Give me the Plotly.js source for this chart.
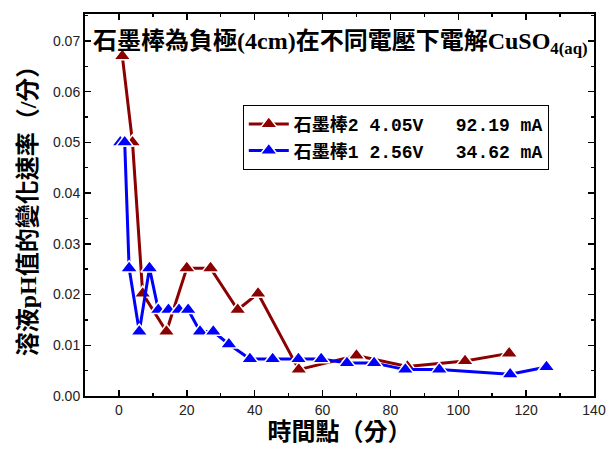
<!DOCTYPE html>
<html>
<head>
<meta charset="utf-8">
<script src="https://cdn.plot.ly/plotly-3.0.1.min.js"></script>
<style>html,body{margin:0;padding:0;background:#fff;}#chart{width:610px;height:455px;}</style>
</head>
<body>
<div id="chart"></div>
<script>
// Data
const redX = [1, 4, 7, 14, 20, 27, 35, 41, 53, 70, 85, 102, 115];
const redY = [0.0670, 0.0500, 0.0202, 0.0127, 0.0252, 0.0252, 0.0170, 0.0202, 0.0052, 0.0080, 0.0058, 0.0069, 0.0084];
const blueX = [0.4, 1.7, 3, 6, 9, 11.6, 14.6, 17.7, 20.4, 23.9, 27.8, 32.4, 38.6, 45.3, 52.9, 59.6, 67.2, 75.2, 84.4, 94.4, 115.3, 126];
const blueY = [0.0500, 0.0500, 0.0252, 0.0127, 0.0252, 0.0170, 0.0170, 0.0170, 0.0170, 0.0127, 0.0127, 0.0102, 0.0073, 0.0073, 0.0073, 0.0073, 0.0065, 0.0065, 0.0052, 0.0052, 0.0043, 0.0057];
const redName = "石墨棒2\u00a04.05V\u00a0\u00a0\u00a092.19\u00a0mA";
const blueName = "石墨棒1\u00a02.56V\u00a0\u00a0\u00a034.62\u00a0mA";
const titleText = "石墨棒為負極(4cm)在不同電壓下電解CuSO<sub>4(aq)</sub>";
const xTitle = "時間點（分）";
const yTitle = "溶液pH值的變化速率（/分）";

const cjk = "'Liberation Serif', 'Noto Sans CJK TC', serif";
const mono = "'Liberation Mono', 'Noto Sans CJK TC', monospace";

const traces = [
  {
    x: redX, y: redY, name: redName, type: 'scatter', mode: 'lines+markers',
    line: {color: '#8b0000', width: 3},
    marker: {symbol: 'triangle-up', size: 15, color: '#8b0000', line: {color: '#ffffff', width: 1.5}}
  },
  {
    x: blueX, y: blueY, name: blueName, type: 'scatter', mode: 'lines+markers',
    line: {color: '#0000ff', width: 3},
    marker: {symbol: 'triangle-up', size: 15, color: '#0000ff', line: {color: '#ffffff', width: 1.5}}
  }
];

const axisCommon = {
  showgrid: false, zeroline: false, showline: true, linecolor: '#000', linewidth: 2,
  ticks: 'inside', ticklen: 6, tickwidth: 1.5, tickcolor: '#000', mirror: 'allticks',
  tickfont: {family: "'Liberation Sans', Arial, sans-serif", size: 14, color: '#222'}
};

const layout = {
  width: 610, height: 455,
  margin: {l: 85, r: 16, t: 14, b: 59},
  paper_bgcolor: '#fff', plot_bgcolor: '#fff',
  showlegend: true,
  legend: {
    x: 0.31, y: 0.762, xanchor: 'left', yanchor: 'top',
    bordercolor: '#000', borderwidth: 1, bgcolor: '#fff',
    font: {family: mono, size: 18, color: '#000', weight: 'bold'},
    tracegroupgap: 0, itemwidth: 40
  },
  xaxis: Object.assign({}, axisCommon, {
    range: [-10, 140], dtick: 20, tick0: 0,
    minor: {dtick: 10, ticks: 'inside', ticklen: 3, tickcolor: '#000', tickwidth: 1.5},
    title: {text: xTitle, font: {family: cjk, size: 24, color: '#000', weight: 'bold'}, standoff: 6}
  }),
  yaxis: Object.assign({}, axisCommon, {
    range: [0, 0.0753], dtick: 0.01, tick0: 0, tickformat: '.2f',
    minor: {dtick: 0.005, ticks: 'inside', ticklen: 3, tickcolor: '#000', tickwidth: 1.5},
    title: {text: yTitle, font: {family: cjk, size: 24, color: '#000', weight: 'bold'}, standoff: 10}
  }),
  annotations: [{
    text: titleText, xref: 'paper', yref: 'paper', x: 0.012, y: 0.925,
    xanchor: 'left', yanchor: 'middle', showarrow: false,
    font: {family: cjk, size: 24, color: '#000', weight: 'bold'}
  }]
};

Plotly.newPlot('chart', traces, layout, {displayModeBar: false, staticPlot: true});
</script>
</body>
</html>
